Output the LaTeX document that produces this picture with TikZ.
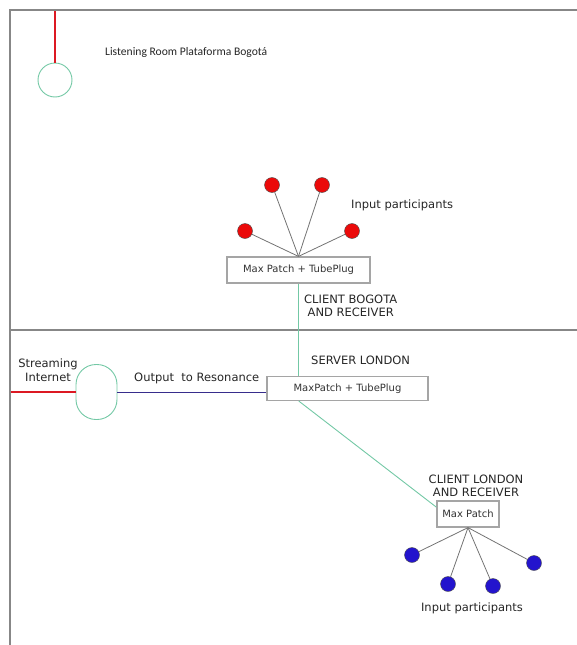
\documentclass[tikz,border=0pt]{standalone}
\usepackage{fontspec}
\setmainfont{DejaVu Sans}
\newfontfamily\roomfont{Carlito}
\usetikzlibrary{positioning,calc}

\definecolor{framegray}{RGB}{135,135,135}
\definecolor{linkgreen}{RGB}{115,200,165}
\definecolor{inred}{RGB}{235,10,10}
\definecolor{inblue}{RGB}{35,20,205}
\definecolor{outblue}{RGB}{55,45,140}
\definecolor{streamred}{RGB}{220,25,35}

\begin{document}
\begin{tikzpicture}[x=1pt,y=-1pt]

    % Styles
    \tikzset{
        frame/.style={draw=framegray, line width=1.6pt},
        patchbox/.style={draw=framegray!75, line width=1.2pt, fill=white, inner sep=0pt,
                         font=\fontsize{10}{12}\selectfont, text=black!80},
        redin/.style={circle, draw=black!70, fill=inred, minimum size=15pt, inner sep=0pt},
        bluein/.style={circle, draw=black!70, fill=inblue, minimum size=15pt, inner sep=0pt},
        spoke/.style={draw=black!55, line width=0.8pt},
        link/.style={draw=linkgreen, line width=0.9pt},
        feedline/.style={draw=streamred, line width=1.3pt},
        txt/.style={font=\fontsize{11.5}{13.5}\selectfont, text=black!85, align=center, inner sep=0pt}
    }

    \useasboundingbox (0,0) rectangle (577,645);

    % Coordinates
    \coordinate (TL) at (10,10);       % top left corner of frame
    \coordinate (TR) at (577,10);      % top right end
    \coordinate (BL) at (10,645);      % bottom of left edge
    \coordinate (ML) at (10,330);      % divider, left
    \coordinate (MR) at (577,330);     % divider, right
    \coordinate (feed) at (55,11);     % feed into the listening room
    \coordinate (stream) at (11,392);  % streaming internet in

    % Frame and divider
    \draw[frame] (TR) -- (TL) -- (BL);
    \draw[draw=framegray, line width=1.1pt] (ML) -- (MR);

    % Listening room (Bogota)
    \node[circle, draw=linkgreen, line width=0.9pt, minimum size=34pt, inner sep=0pt] (room) at (55,80) {};
    \draw[feedline] (feed) -- (room.north);
    \node[txt, anchor=west, font=\roomfont\fontsize{11.6}{13}\selectfont] (roomlabel) at (105,52) {Listening Room Plataforma Bogotá};

    % Client Bogota
    \node[patchbox, minimum width=143pt, minimum height=26pt] (patchB) at (298.5,270) {Max Patch + TubePlug};
    \node[redin] (rA) at (245,231) {};
    \node[redin] (rB) at (272,185) {};
    \node[redin] (rC) at (322,185) {};
    \node[redin] (rD) at (352,231) {};
    \draw[spoke] (patchB.north) -- (rA);
    \draw[spoke] (patchB.north) -- (rB);
    \draw[spoke] (patchB.north) -- (rC);
    \draw[spoke] (patchB.north) -- (rD);
    \node[txt, anchor=west] (inB) at (351,205) {Input participants};
    \node[txt, anchor=west] (clientB) at (304,306) {CLIENT BOGOTA\\AND RECEIVER};

    % Server London
    \node[patchbox, minimum width=161pt, minimum height=24pt] (server) at (347.5,388.5) {MaxPatch + TubePlug};
    \node[txt, anchor=west] (serverlabel) at (311,360) {SERVER LONDON};
    \draw[link] (patchB.south) -- (patchB.south |- server.north);

    % Streaming out
    \node[draw=linkgreen, line width=0.9pt, rounded corners=20pt, minimum width=41pt, minimum height=55pt] (oval) at (96.5,392) {};
    \node[txt] (streamlabel) at (48,370) {Streaming\\Internet};
    \draw[feedline] (stream) -- (oval.west);
    \draw[outblue, line width=1pt] (oval.east) -- (oval.east -| server.west);
    \node[txt, anchor=west] (outlabel) at (134,378) {Output~~to Resonance};

    % Client London
    \node[patchbox, minimum width=62pt, minimum height=26pt] (patchL) at (468,514) {Max Patch};
    \draw[link] ($(server.south west)!0.2!(server.south east)$) -- ($(patchL.north west)!0.25!(patchL.south west)$);
    \node[txt] (clientL) at (476,486) {CLIENT LONDON\\AND RECEIVER};
    \node[bluein] (bA) at (412,555) {};
    \node[bluein] (bB) at (448,584) {};
    \node[bluein] (bC) at (493,586) {};
    \node[bluein] (bD) at (534,563) {};
    \draw[spoke] (patchL.south) -- (bA);
    \draw[spoke] (patchL.south) -- (bB);
    \draw[spoke] (patchL.south) -- (bC);
    \draw[spoke] (patchL.south) -- (bD);
    \node[txt] (inL) at (472,608) {Input participants};

\end{tikzpicture}
\end{document}
